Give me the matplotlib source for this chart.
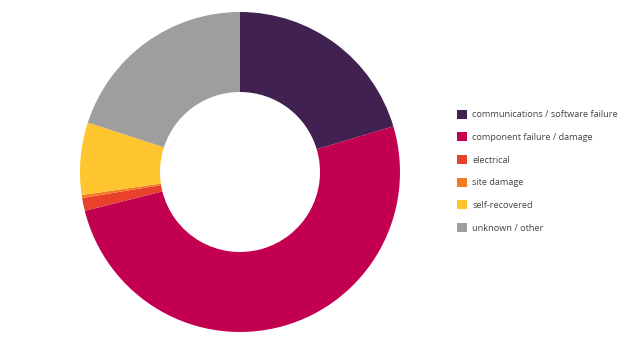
import matplotlib.pyplot as plt
from matplotlib.patches import Patch

categories = ["communications / software failure", "component failure / damage",
              "electrical", "site damage", "self-recovered", "unknown / other"]
shares = [20.4, 50.7, 1.3, 0.3, 7.3, 20.0]
colors = ["#40214f", "#c2004f", "#e8412c", "#f47c20", "#ffc52f", "#9e9e9e"]

plt.rcParams['font.family'] = ['Open Sans', 'DejaVu Sans']

fig = plt.figure(figsize=(6.24, 3.43), dpi=100)
ax = fig.add_axes([80 / 624, 11 / 343, 320 / 624, 320 / 343])
ax.pie(shares, colors=colors, startangle=90, counterclock=False,
       wedgeprops=dict(width=0.5, linewidth=0))
ax.set_xlim(-1, 1)
ax.set_ylim(-1, 1)
ax.set_aspect('equal')

handles = [Patch(facecolor=c, edgecolor='none') for c in colors]
fig.legend(handles, categories, loc='upper left', bbox_to_anchor=(453 / 624, 1 - 106 / 343),
           frameon=False, fontsize=6.6, labelcolor='#444444', handlelength=1.15,
           handleheight=1.15, handletextpad=0.55, labelspacing=1.42, borderaxespad=0)

fig.savefig("out.png", dpi=100)
